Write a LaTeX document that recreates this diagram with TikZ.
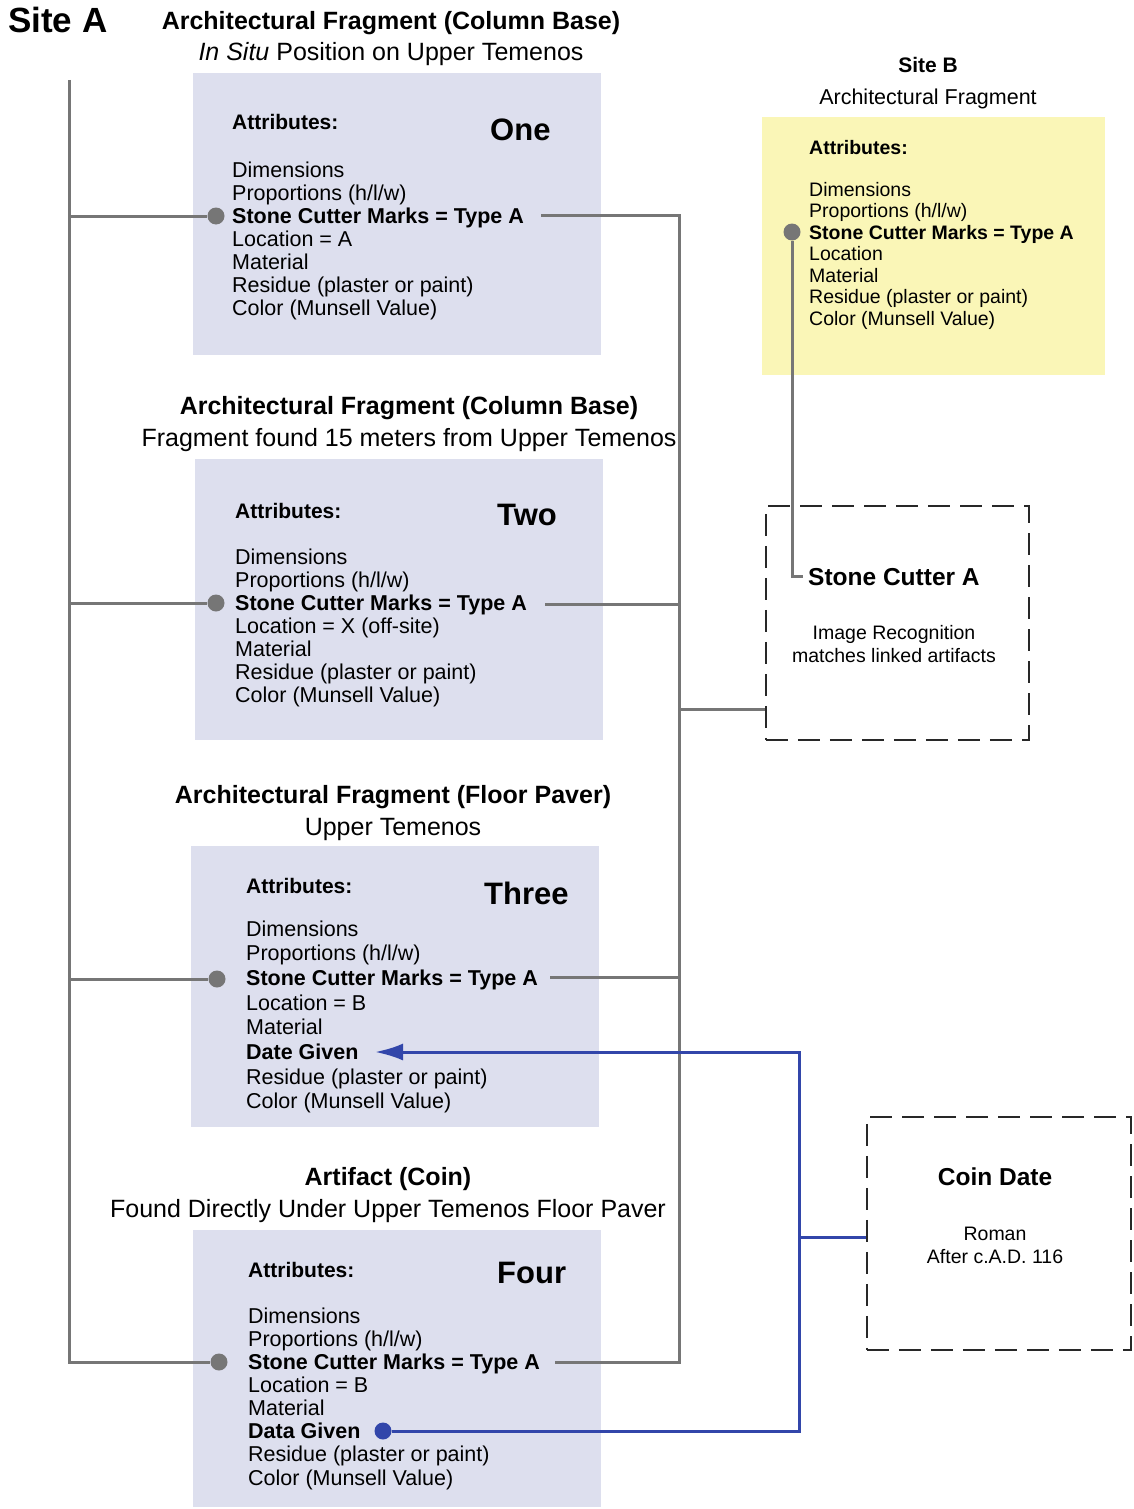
\documentclass[tikz,border=0pt]{standalone}
\usepackage{fontspec}
\setmainfont{Liberation Sans}
\usetikzlibrary{arrows.meta,calc}
\definecolor{panelBlue}{RGB}{221,223,238}
\definecolor{panelYellow}{RGB}{250,246,183}
\definecolor{linkGray}{RGB}{118,118,118}
\definecolor{darkBlue}{RGB}{50,70,170}
\definecolor{inkGray}{RGB}{40,40,40}

\tikzset{
  panel/.style={fill=#1, inner sep=0pt, anchor=north west},
  dashbox/.style={draw=inkGray, line width=1.6pt, dash pattern=on 22pt off 10pt, inner sep=0pt, anchor=north west},
  heading/.style={anchor=base, inner sep=0pt, font=\fontsize{25}{28}\selectfont\bfseries},
  subheading/.style={anchor=base, inner sep=0pt, font=\fontsize{25}{28}\selectfont},
  attrhead/.style={anchor=base west, inner sep=0pt, font=\fontsize{21}{23}\selectfont\bfseries},
  item/.style={anchor=base west, inner sep=0pt, font=\fontsize{21.5}{23}\selectfont},
  smallitem/.style={anchor=base west, inner sep=0pt, font=\fontsize{19.5}{21}\selectfont},
  number/.style={anchor=base west, inner sep=0pt, font=\fontsize{31}{34}\selectfont\bfseries},
  boxhead/.style={inner sep=0pt, font=\fontsize{24.5}{28}\selectfont\bfseries},
  boxtext/.style={anchor=base, inner sep=0pt, font=\fontsize{19.5}{22}\selectfont},
  link/.style={draw=linkGray, line width=3pt},
  bluelink/.style={draw=darkBlue, line width=3pt},
  dot/.style={circle, fill=linkGray, inner sep=0pt, minimum size=17pt},
  bluedot/.style={circle, fill=darkBlue, inner sep=0pt, minimum size=17pt}
}

\begin{document}
\begin{tikzpicture}[x=1pt,y=-1pt]
    \useasboundingbox (0,0) rectangle (1133,1509);

    % panels
    \node[panel=panelBlue, minimum width=408pt, minimum height=282pt] (panelOne) at (193,73) {};
    \node[panel=panelBlue, minimum width=408pt, minimum height=281pt] (panelTwo) at (195,459) {};
    \node[panel=panelBlue, minimum width=408pt, minimum height=281pt] (panelThree) at (191,846) {};
    \node[panel=panelBlue, minimum width=408pt, minimum height=277pt] (panelFour) at (193,1230) {};
    \node[panel=panelYellow, minimum width=343pt, minimum height=258pt] (panelB) at (762,117) {};
    \node[dashbox, minimum width=263pt, minimum height=234pt] (cutter) at (765,505) {};
    \node[dashbox, minimum width=264pt, minimum height=233pt] (coin) at (866,1116) {};

    % headings
    \node[anchor=base west, inner sep=0pt, font=\fontsize{35}{38}\selectfont\bfseries] (siteA) at (8,33) {Site A};
    \node[heading] (titleOne) at (391,30) {Architectural Fragment (Column Base)};
    \node[subheading] (subOne) at (391,61) {\textit{In Situ} Position on Upper Temenos};
    \node[heading] (titleTwo) at (409,414) {Architectural Fragment (Column Base)};
    \node[subheading] (subTwo) at (409,446) {Fragment found 15 meters from Upper Temenos};
    \node[heading] (titleThree) at (393,803) {Architectural Fragment (Floor Paver)};
    \node[subheading] (subThree) at (393,835) {Upper Temenos};
    \node[heading] (titleFour) at (388,1185) {Artifact (Coin)};
    \node[subheading] (subFour) at (388,1217) {Found Directly Under Upper Temenos Floor Paver};
    \node[anchor=base, inner sep=0pt, font=\fontsize{21}{24}\selectfont\bfseries] (siteB) at (928,73) {Site B};
    \node[subheading, font=\fontsize{21.5}{24}\selectfont] (subB) at (928,105) {Architectural Fragment};

    % fragment one
    \node[attrhead] (attrOne) at (232,130) {Attributes:};
    \node[number] (numOne) at (490,141) {One};
    \foreach \txt [count=\i] in {Dimensions, {Proportions (h/l/w)}, \textbf{Stone Cutter Marks = Type A}, Location = A, Material, Residue (plaster or paint), Color (Munsell Value)}
      \node[item] (one-\i) at (232,{154+23*\i}) {\txt};

    % fragment two
    \node[attrhead] (attrTwo) at (235,518) {Attributes:};
    \node[number] (numTwo) at (497,525) {Two};
    \foreach \txt [count=\i] in {Dimensions, {Proportions (h/l/w)}, \textbf{Stone Cutter Marks = Type A}, Location = X (off-site), Material, Residue (plaster or paint), Color (Munsell Value)}
      \node[item] (two-\i) at (235,{541+23*\i}) {\txt};

    % fragment three
    \node[attrhead] (attrThree) at (246,893) {Attributes:};
    \node[number] (numThree) at (484,904) {Three};
    \foreach \txt [count=\i] in {Dimensions, {Proportions (h/l/w)}, \textbf{Stone Cutter Marks = Type A}, Location = B, Material, \textbf{Date Given}, Residue (plaster or paint), Color (Munsell Value)}
      \node[item] (three-\i) at (246,{911.3+24.7*\i}) {\txt};

    % artifact four
    \node[attrhead] (attrFour) at (248,1277) {Attributes:};
    \node[number] (numFour) at (497,1283) {Four};
    \foreach \txt [count=\i] in {Dimensions, {Proportions (h/l/w)}, \textbf{Stone Cutter Marks = Type A}, Location = B, Material, \textbf{Data Given}, Residue (plaster or paint), Color (Munsell Value)}
      \node[item] (four-\i) at (248,{1299.85+23.15*\i}) {\txt};

    % site B fragment
    \node[attrhead, font=\fontsize{19.5}{21}\selectfont\bfseries] (attrB) at (809,154) {Attributes:};
    \foreach \txt [count=\i] in {Dimensions, {Proportions (h/l/w)}, \textbf{Stone Cutter Marks = Type A}, Location, Material, Residue (plaster or paint), Color (Munsell Value)}
      \node[smallitem] (bee-\i) at (809,{174.5+21.5*\i}) {\txt};

    % dashed boxes
    \node[boxhead, anchor=base west] (cutterName) at (808,585) {Stone Cutter A};
    \node[boxtext] (cutterLineA) at (894,639) {Image Recognition};
    \node[boxtext] (cutterLineB) at (894,662) {matches linked artifacts};
    \node[boxhead, anchor=base] (coinName) at (995,1185) {Coin Date};
    \node[boxtext] (coinLineA) at (995,1240) {Roman};
    \node[boxtext] (coinLineB) at (995,1263) {After c.A.D. 116};

    % dots
    \node[dot] (dotOne) at (216,216) {};
    \node[dot] (dotTwo) at (216,603) {};
    \node[dot] (dotThree) at (217,979) {};
    \node[dot] (dotFour) at (219,1362) {};
    \node[dot] (dotB) at (792,232) {};
    \node[bluedot] (dotData) at (383,1431) {};

    % gray connectors
    \coordinate (busL) at (69,80);
    \coordinate (busR) at (679,1362);
    \coordinate (busRmid) at (679,709);
    \coordinate (outOne) at (541,215);
    \coordinate (outTwo) at (545,604);
    \coordinate (outThree) at (550,977);
    \coordinate (outFour) at (555,1362);
    \draw[link] (busL) |- (dotFour);
    \draw[link] (dotOne) -- (dotOne -| busL);
    \draw[link] (dotTwo) -- (dotTwo -| busL);
    \draw[link] (dotThree) -- (dotThree -| busL);
    \draw[link] (outOne) -| (busR) -- (outFour);
    \draw[link] (outTwo) -- (outTwo -| busR);
    \draw[link] (outThree) -- (outThree -| busR);
    \draw[link] (busRmid) -- (busRmid -| cutter.west);
    \draw[link] (dotB) |- ([xshift=-5pt]cutterName.west);

    % blue connectors
    \coordinate (blueBus) at (799,1237);
    \coordinate (dateTip) at (375,1052);
    \draw[bluelink,-{Latex[length=28pt,width=17pt]}] (dotData) -| (blueBus |- dateTip) -- (dateTip);
    \draw[bluelink] (blueBus) -- (blueBus -| coin.west);
\end{tikzpicture}
\end{document}
